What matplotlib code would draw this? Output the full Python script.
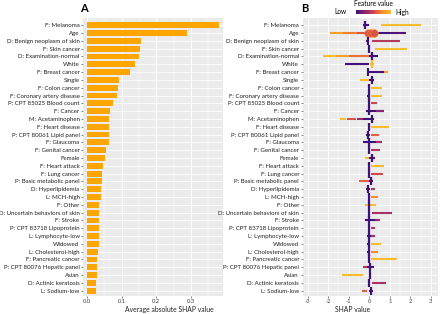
import matplotlib
matplotlib.use("Agg")
import matplotlib.pyplot as plt
import numpy as np
from matplotlib.colors import LinearSegmentedColormap

plt.rcParams['font.family'] = ['Lato', 'DejaVu Sans']
plt.rcParams['axes.unicode_minus'] = False

features = ["F: Melanoma", "Age", "D: Benign neoplasm of skin", "F: Skin cancer",
            "D: Examination-normal", "White", "F: Breast cancer", "Single",
            "F: Colon cancer", "F: Coronary artery disease", "P: CPT 85025 Blood count",
            "F: Cancer", "M: Acetaminophen", "F: Heart disease", "P: CPT 80061 Lipid panel",
            "F: Glaucoma", "F: Genital cancer", "Female", "F: Heart attack", "F: Lung cancer",
            "P: Basic metabolic panel", "D: Hyperlipidemia", "L: MCH-high", "F: Other",
            "D: Uncertain behaviors of skin", "F: Stroke", "P: CPT 83718 Lipoprotein",
            "L: Lymphocyte-low", "Widowed", "L: Cholesterol-high", "F: Pancreatic cancer",
            "P: CPT 80076 Hepatic panel", "Asian", "D: Actinic keratosis", "L: Sodium-low"]

mean_abs_shap = [0.380, 0.288, 0.155, 0.153, 0.151, 0.137, 0.123, 0.092, 0.088, 0.087,
                 0.076, 0.067, 0.064, 0.063, 0.063, 0.062, 0.054, 0.052, 0.045, 0.044,
                 0.042, 0.041, 0.040, 0.036, 0.035, 0.035, 0.034, 0.034, 0.034, 0.032,
                 0.030, 0.030, 0.028, 0.026, 0.026]

# panel B: dense cluster position, low-value (purple) spread, high-value spread
tick_x = [-0.20, 0.15, -0.08, -0.03, 0.13, 0.12, -0.06, 0.13, 0.00, -0.02,
          -0.02, -0.02, 0.13, 0.00, -0.06, 0.00, 0.00, 0.13, 0.00, 0.00,
          0.10, -0.04, 0.00, 0.00, 0.00, 0.00, 0.00, -0.03, 0.00, 0.00,
          0.00, 0.03, 0.05, 0.00, 0.10]
tick_v = [0.0, 0.55, 0.0, 0.0, 0.0, 1.0, 0.0, 0.0, 0.0, 0.0,
          0.0, 0.0, 0.0, 0.0, 0.0, 0.0, 0.0, 0.0, 0.0, 0.0,
          0.0, 0.0, 0.0, 0.0, 0.0, 0.0, 0.0, 0.0, 0.0, 0.0,
          0.0, 0.0, 0.0, 0.0, 0.0]
lo_a = [-0.28, 0.40, -0.15, -0.06, 0.00, -1.20, -0.06, 0.00, -0.08, -0.10,
        -0.06, -0.16, -0.30, -0.05, -0.16, -0.28, -0.05, 0.00, -0.05, -0.05,
        0.00, -0.16, -0.05, -0.05, -0.05, -0.19, -0.05, -0.13, -0.10, -0.13,
        -0.03, -0.28, 0.00, -0.03, 0.00]
lo_b = [-0.03, 1.00, 0.00, 0.00, 0.42, 0.00, 0.72, 0.21, 0.05, 0.02,
        0.05, 0.74, 0.24, 0.03, 0.05, 0.61, 0.05, 0.26, 0.03, 0.03,
        0.20, 0.05, 0.05, 0.05, 0.05, 0.53, 0.05, 0.29, 0.05, 0.05,
        0.03, 0.21, 0.10, 0.05, 0.20]
hi_a = [0.57, 1.00, 0.15, 0.30, -1.00, 0.05, 0.72, -0.44, 0.10, 0.10,
        0.10, 0.35, -0.60, 0.10, 0.10, 0.35, 0.10, -0.20, 0.10, 0.10,
        -0.52, 0.10, 0.10, -0.19, 0.13, 0.30, 0.10, 0.10, 0.10, 0.10,
        0.10, -0.28, -1.33, 0.13, -0.36]
hi_b = [2.52, 1.80, 1.50, 1.85, 0.00, 0.22, 0.90, 0.00, 0.61, 0.61,
        0.37, 0.74, -0.30, 0.97, 0.49, 0.61, 0.53, 0.00, 0.74, 0.65,
        0.00, 0.26, 0.42, 0.32, 1.13, 0.53, 0.29, 0.29, 0.58, 0.45,
        1.34, -0.10, -0.28, 0.81, -0.10]
hi_v = [1.0, 0.05, 0.40, 1.0, 0.65, 1.0, 0.85, 1.0, 1.0, 1.0,
        0.50, 0.25, 0.30, 1.0, 0.60, 0.35, 0.40, 1.0, 1.0, 0.50,
        0.60, 0.40, 0.75, 1.0, 0.35, 0.30, 0.40, 0.35, 1.0, 0.75,
        1.0, 0.40, 1.0, 0.35, 0.60]

# extra colour-graded stretches (feature index, start, end, value)
ext_row = [1, 1, 1, 4, 4, 12, 12]
ext_a = [-1.90, -1.30, -0.60, -2.27, -1.60, -1.44, -1.10]
ext_b = [-1.30, -0.60, 0.00, -1.60, -1.00, -1.15, -0.65]
ext_v = [0.85, 0.70, 0.55, 1.0, 0.85, 1.0, 0.55]

age_blob_x = [-0.05, 0.10, 0.25]

cmap = LinearSegmentedColormap.from_list(
    "fv", ["#40117a", "#8a2373", "#d2464f", "#f78c26", "#fbbd2c"])

fig = plt.figure(figsize=(4.4, 3.14), dpi=100)
n = len(features)
y = np.arange(n)
bg = "#ebebeb"
fs = 4.4

axA = fig.add_axes([83 / 440, 18 / 314, 140 / 440, 278 / 314])
axB = fig.add_axes([302.5 / 440, 18 / 314, 135.5 / 440, 278 / 314])
for ax in (axA, axB):
    ax.set_facecolor(bg)
    for s in ax.spines.values():
        s.set_visible(False)
    ax.set_yticks(y)
    ax.set_yticklabels(features, fontsize=fs, color="#222222")
    ax.set_ylim(n - 1 + 0.68, -0.93)
    ax.tick_params(axis="both", length=1.5, width=0.5, color="#555555", pad=1)
    ax.tick_params(axis="x", labelsize=fs - 0.2, labelcolor="#444444")
    ax.grid(True, which="major", color="white", lw=0.6)
    ax.grid(True, which="minor", axis="x", color="white", lw=0.3)
    ax.set_axisbelow(True)

axA.barh(y, mean_abs_shap, height=0.75, color="#ffa500")
axA.set_xlim(-0.0115, 0.392)
axA.set_xticks([0.0, 0.1, 0.2, 0.3])
axA.set_xticks([0.05, 0.15, 0.25, 0.35], minor=True)
axA.tick_params(axis="x", which="minor", length=0)
axA.set_xticklabels(["0.0", "0.1", "0.2", "0.3"])
axA.set_xlabel("Average absolute SHAP value", fontsize=fs + 0.5, color="#222222")
axA.xaxis.set_label_coords(0.614, -0.035)

lw = 1.5
for i in range(n):
    axB.hlines(i, lo_a[i], lo_b[i], color=cmap(0.0), lw=lw, zorder=3)
    axB.hlines(i, hi_a[i], hi_b[i], color=cmap(hi_v[i]), lw=lw, zorder=3)
for r, a, b, v in zip(ext_row, ext_a, ext_b, ext_v):
    axB.hlines(r, a, b, color=cmap(v), lw=lw, zorder=3)
axB.scatter(age_blob_x, [1] * len(age_blob_x), s=30, color=cmap(0.55),
            edgecolors=cmap(0.75), linewidths=0.4, zorder=4)
for i in range(n):
    if i == 1:
        continue
    axB.plot(tick_x[i], i, marker="|", ms=6, mew=1.6, color=cmap(tick_v[i]), zorder=5)

axB.set_xlim(-3.25, 3.35)
axB.set_xticks([-3, -2, -1, 0, 1, 2, 3])
axB.set_xticks([-2.5, -1.5, -0.5, 0.5, 1.5, 2.5], minor=True)
axB.tick_params(axis="x", which="minor", length=0)
axB.set_xlabel("SHAP value", fontsize=fs + 0.5, color="#222222")
axB.xaxis.set_label_coords(0.37, -0.035)

fig.text(80 / 440, 1 - 9 / 314, "A", fontsize=8, fontweight="bold", va="center")
fig.text(301 / 440, 1 - 9 / 314, "B", fontsize=8, fontweight="bold", va="center")

cax = fig.add_axes([356 / 440, 1 - 14 / 314, 35 / 440, 4 / 314])
cax.imshow(np.linspace(0, 1, 256)[None, :], aspect="auto", cmap=cmap)
cax.set_axis_off()
fig.text(373 / 440, 1 - 4 / 314, "Feature value", fontsize=fs + 0.3, ha="center", va="center")
fig.text(340 / 440, 1 - 12 / 314, "Low", fontsize=fs + 0.3, ha="center", va="center")
fig.text(402 / 440, 1 - 12 / 314, "High", fontsize=fs + 0.3, ha="center", va="center")

fig.savefig("out.png", dpi=100)
